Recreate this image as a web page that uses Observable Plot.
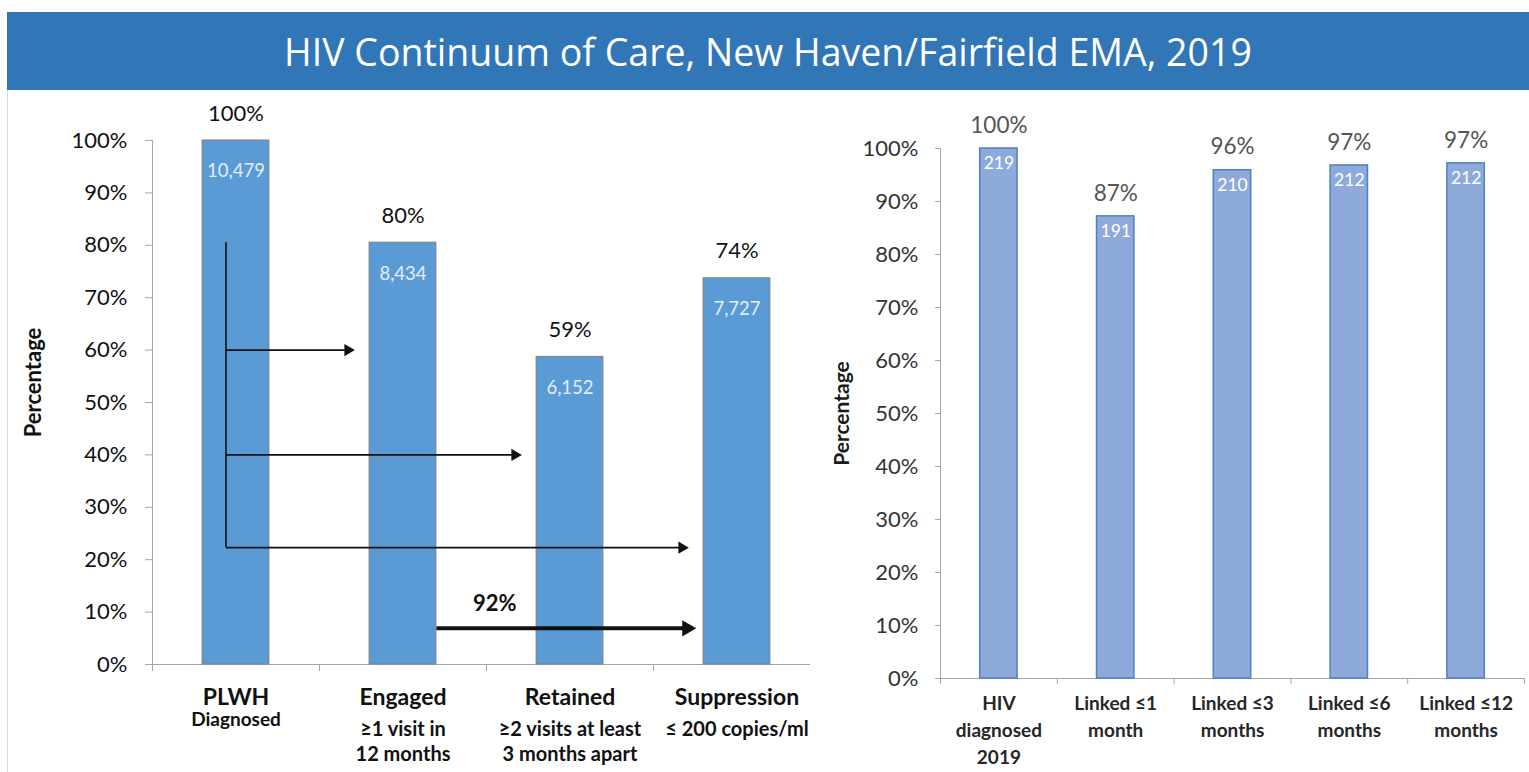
<!DOCTYPE html>
<html>
<head>
<meta charset="utf-8">
<script src="https://cdn.jsdelivr.net/npm/d3@7"></script>
<script src="https://cdn.jsdelivr.net/npm/@observablehq/plot@0.6"></script>
<style>
  html, body { margin: 0; padding: 0; background: #fff; }
  body { width: 1529px; height: 772px; overflow: hidden; position: relative; font-family: Lato, "Open Sans", sans-serif; }
  #title { position: absolute; left: 7px; top: 12px; width: 1522px; height: 78px; background: #3176b6; color: #fff;
           font-family: "Open Sans", sans-serif; font-size: 37.5px; display: flex; align-items: center; justify-content: center; }
  #edge { position: absolute; left: 7px; top: 90px; width: 1px; height: 682px; background: #d9d9d9; }
  #left { position: absolute; left: 8px; top: 90px; }
  #right { position: absolute; left: 810px; top: 90px; }
</style>
</head>
<body>
<div id="title">HIV Continuum of Care, New Haven/Fairfield EMA, 2019</div>
<div id="edge"></div>
<div id="left"></div>
<div id="right"></div>
<script>
// ---- Data: care continuum (left) ----
const cascadeCategories = ["PLWH", "Engaged", "Retained", "Suppression"];
const cascadeSublabels = ["Diagnosed", "≥1 visit in\n12 months", "≥2 visits at least\n3 months apart", "≤ 200 copies/ml"];
const cascadePercent = [100, 80.5, 58.7, 73.7];
const cascadeLabels = ["100%", "80%", "59%", "74%"];
const cascadeCounts = ["10,479", "8,434", "6,152", "7,727"];
const cascadeArrows = [
  { from: "PLWH", to: "Engaged", level: 60 },
  { from: "PLWH", to: "Retained", level: 40 },
  { from: "PLWH", to: "Suppression", level: 22.3 }
];
const suppressionArrow = [{ from: "Engaged", to: "Suppression", level: 6.9, label: "92%" }];

// ---- Data: linkage to care (right) ----
const linkageCategories = ["HIV\ndiagnosed\n2019", "Linked ≤1\nmonth", "Linked ≤3\nmonths", "Linked ≤6\nmonths", "Linked ≤12\nmonths"];
const linkagePercent = [100, 87.2, 95.9, 96.8, 97.2];
const linkageLabels = ["100%", "87%", "96%", "97%", "97%"];
const linkageCounts = ["219", "191", "210", "212", "212"];

const yTicks = [0, 10, 20, 30, 40, 50, 60, 70, 80, 90, 100];

// ---- Left chart ----
const L = cascadeCategories.map((c, i) => ({
  i, cat: c, sub: cascadeSublabels[i], pct: cascadePercent[i], lab: cascadeLabels[i], n: cascadeCounts[i]
}));
const idxL = c => cascadeCategories.indexOf(c);
const halfL = 0.2;
const trunkX = idxL("PLWH") - 0.06;
const arrowsL = cascadeArrows.map(a => ({ x1: trunkX, x2: idxL(a.to) - 0.33, y: a.level }));
const thickL = suppressionArrow.map(a => ({ x1: idxL(a.from) + halfL, x2: idxL(a.to) - 0.3, y: a.level, label: a.label, lx: idxL(a.from) + 0.55 }));
const trunkTop = cascadePercent[idxL("Engaged")];
const trunkBottom = d3.min(cascadeArrows, a => a.level);

const leftChart = Plot.plot({
  width: 822, height: 682,
  marginLeft: 144, marginTop: 50, marginBottom: 108, marginRight: 10,
  x: { type: "linear", domain: [-0.5, cascadeCategories.length - 0.5] },
  y: { domain: [0, 100] },
  style: { fontFamily: "Lato, sans-serif", background: "white", color: "#111" },
  marks: [
    Plot.axisY({ ticks: yTicks, tickFormat: d => d + "%", tickSize: 7, tickPadding: 18, stroke: "#a6a6a6", fill: "#111", fontSize: 22, label: null }),
    Plot.axisX({ ticks: d3.range(-0.5, cascadeCategories.length, 1), tickFormat: () => "", tickSize: 7, stroke: "#a6a6a6", label: null }),
    Plot.ruleX([-0.5], { y1: 0, y2: 100, stroke: "#a6a6a6" }),
    Plot.ruleY([0], { stroke: "#a6a6a6" }),
    Plot.rect(L, { x1: d => d.i - halfL, x2: d => d.i + halfL, y1: 0, y2: "pct", fill: "#5b9bd5", stroke: "#7f7f7f", strokeWidth: 1 }),
    Plot.text(L, { x: "i", y: "pct", text: "lab", dy: -27, fontSize: 22, fill: "#111" }),
    Plot.text(L, { x: "i", y: "pct", text: "n", dy: 31, fontSize: 18.5, fill: "#e3eef9" }),
    // arrows
    Plot.ruleX([trunkX], { y1: trunkBottom, y2: trunkTop, stroke: "#111", strokeWidth: 1.6 }),
    Plot.link(arrowsL, { x1: "x1", x2: "x2", y1: "y", y2: "y", stroke: "#111", strokeWidth: 1.6 }),
    Plot.dot(arrowsL, { x: "x2", y: "y", symbol: "triangle", rotate: 90, r: 4.5, fill: "#111", stroke: "none" }),
    Plot.link(thickL, { x1: "x1", x2: "x2", y1: "y", y2: "y", stroke: "#111", strokeWidth: 4 }),
    Plot.dot(thickL, { x: "x2", y: "y", symbol: "triangle", rotate: 90, r: 6, fill: "#111", stroke: "none" }),
    Plot.text(thickL, { x: "lx", y: "y", text: "label", dy: -24, fontSize: 22, fontWeight: "bold", fill: "#111" }),
    // category labels
    Plot.text(L, { x: "i", y: 0, text: "cat", dy: 33, fontSize: 23, fontWeight: "bold", fill: "#111" }),
    Plot.text(L.filter(d => d.i === 0), { x: "i", y: 0, text: "sub", dy: 48, lineAnchor: "top", fontSize: 19, fontWeight: "bold", fill: "#111" }),
    Plot.text(L.filter(d => d.i > 0), { x: "i", y: 0, text: "sub", dy: 54, lineAnchor: "top", lineHeight: 1.25, fontSize: 20, fontWeight: "bold", fill: "#111" }),
    Plot.text(["Percentage"], { frameAnchor: "left", textAnchor: "middle", rotate: -90, dx: -119, dy: -20, fontSize: 22, fontWeight: "bold", fill: "#111" })
  ]
});
document.getElementById("left").appendChild(leftChart);

// ---- Right chart ----
const R = linkageCategories.map((c, i) => ({
  i, cat: c, pct: linkagePercent[i], lab: linkageLabels[i], n: linkageCounts[i]
}));
const halfR = 0.16;

const rightChart = Plot.plot({
  width: 719, height: 682,
  marginLeft: 130, marginTop: 58, marginBottom: 94, marginRight: 5,
  x: { type: "linear", domain: [-0.5, linkageCategories.length - 0.5] },
  y: { domain: [0, 100] },
  style: { fontFamily: "Lato, sans-serif", background: "white", color: "#333" },
  marks: [
    Plot.axisY({ ticks: yTicks, tickFormat: d => d + "%", tickSize: 5, tickPadding: 17, stroke: "#a6a6a6", fill: "#333", fontSize: 22, label: null }),
    Plot.axisX({ ticks: d3.range(-0.5, linkageCategories.length, 1), tickFormat: () => "", tickSize: 6, stroke: "#a6a6a6", label: null }),
    Plot.ruleX([-0.5], { y1: 0, y2: 100, stroke: "#a6a6a6" }),
    Plot.ruleY([0], { stroke: "#a6a6a6" }),
    Plot.rect(R, { x1: d => d.i - halfR, x2: d => d.i + halfR, y1: 0, y2: "pct", fill: "#8eaadb", stroke: "#4f81bd", strokeWidth: 1.5 }),
    Plot.text(R, { x: "i", y: "pct", text: "lab", dy: -23, fontSize: 22.5, fill: "#555" }),
    Plot.text(R, { x: "i", y: "pct", text: "n", dy: 15, fontSize: 17.5, fill: "#ffffff" }),
    Plot.text(R, { x: "i", y: 0, text: "cat", dy: 12, lineAnchor: "top", lineHeight: 1.42, fontSize: 19, fontWeight: "bold", fill: "#262626" }),
    Plot.text(["Percentage"], { frameAnchor: "left", textAnchor: "middle", rotate: -90, dx: -98, fontSize: 21, fontWeight: "bold", fill: "#1a1a1a" })
  ]
});
document.getElementById("right").appendChild(rightChart);
</script>
</body>
</html>
